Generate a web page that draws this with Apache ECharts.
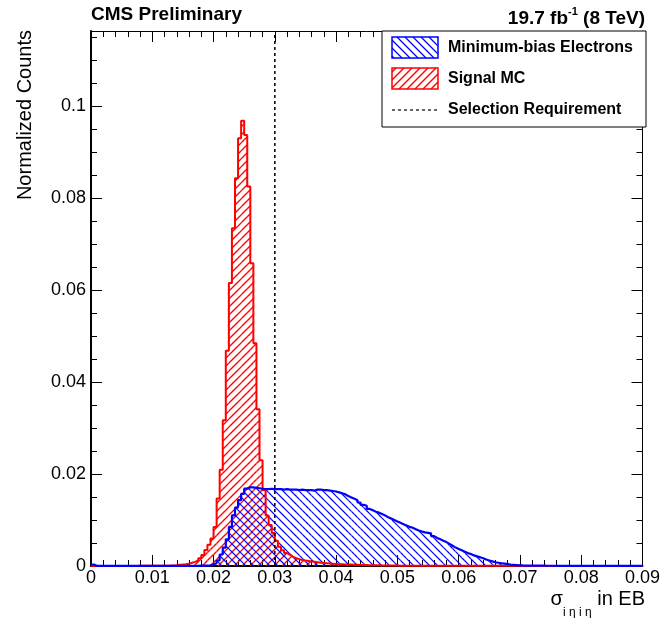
<!DOCTYPE html>
<html>
<head>
<meta charset="utf-8">
<script src="https://cdn.jsdelivr.net/npm/echarts@6/dist/echarts.min.js"></script>
<style>
html,body{margin:0;padding:0;background:#fff;}
#chart{width:663px;height:618px;}
</style>
</head>
<body>
<div id="chart"></div>
<script>
// ---- data ----
const binWidth = 0.0005;
const xMin = 0, xMax = 0.09;
const yMin = 0, yMax = 0.1163;
const selectionCut = 0.03;
const xTickStep = 0.01;
const yTickStep = 0.02;

const signalMC = [
 0.00002,0.00002,0.00002,0.00002,0.00002,0.00002,0.00002,0.00002,0.00002,0.00002,
 0.00002,0.00002,0.00002,0.00002,0.00002,0.00003,0.00003,0.00003,0.00003,0.00003,
 0.00005,0.00005,0.00005,0.00005,0.00008,0.0001,0.00013,0.00018,0.00025,0.00032,
 0.0004,0.0005,0.0007,0.0009,0.0012,0.0017,0.0024,0.0035,0.0046,0.0060,
 0.0085,0.0147,0.0209,0.0317,0.0468,0.0615,0.0734,0.0843,0.0930,0.0968,
 0.0937,0.0825,0.0658,0.0484,0.0341,0.0230,0.0165,0.0110,0.0089,0.0072,
 0.0055,0.0042,0.0034,0.0028,0.0024,0.0020,0.0017,0.0015,0.0013,0.0012,
 0.0011,0.0010,0.0009,0.0008,0.0007,0.00065,0.0006,0.00055,0.0005,0.00045,
 0.0004,0.00038,0.00035,0.00032,0.0003,0.00028,0.00026,0.00024,0.00022,0.0002,
 0.00018,0.00016,0.00015,0.00014,0.00013,0.00012,0.0001,0.0001,0.00009,0.00009,
 0.00008,0.00008,0.00007,0.00007,0.00006,0.00006,0.00005,0.00005,0.00005,0.00005,
 0.00005,0.00005,0.00005,0.00005,0.00005,0.00005,0.00004,0.00004,0.00004,0.00004,
 0.00004,0.00004,0.00004,0.00004,0.00004,0.00004,0.00003,0.00003,0.00003,0.00003,
 0.00003,0.00003,0.00003,0.00003,0.00003,0.00003,0.00003,0.00003,0.00003,0.00003,
 0.00002,0.00002,0.00002,0.00002,0.00002,0.00002,0.00002,0.00002,0.00002,0.00002,
 0.00002,0.00002,0.00002,0.00002,0.00002,0.00002,0.00002,0.00002,0.00002,0.00002,
 0.00002,0.00002,0.00002,0.00002,0.00002,0.00002,0.00002,0.00002,0.00002,0.00002,
 0.00002,0.00002,0.00002,0.00002,0.00002,0.00002,0.00002,0.00002,0.00002,0.00002
];

const minBiasElectrons = [
 0.0003,0.00002,0.00002,0.00002,0.00002,0.00002,0.00002,0.00002,0.00002,0.00002,
 0.00002,0.00002,0.00002,0.00002,0.00002,0.00002,0.00002,0.00002,0.00002,0.00002,
 0.00002,0.00002,0.00002,0.00002,0.00002,0.00002,0.00002,0.00002,0.00002,0.00002,
 0.00004,0.00004,0.00004,0.00004,0.00004,0.00006,0.00008,0.0001,0.00015,0.0003,
 0.0006,0.0012,0.0025,0.0040,0.0058,0.0085,0.0110,0.0127,0.0143,0.0157,
 0.0168,0.0171,0.0171,0.0170,0.0169,0.0168,0.0167,0.0167,0.0168,0.0167,
 0.0167,0.0167,0.0166,0.0167,0.0166,0.0166,0.0166,0.0165,0.0166,0.0165,
 0.0165,0.0165,0.0164,0.0166,0.0166,0.0165,0.0165,0.0164,0.0163,0.0162,
 0.0160,0.0158,0.0156,0.0152,0.0149,0.0146,0.0143,0.0138,0.0133,0.0131,
 0.0124,0.0121,0.0118,0.0116,0.0113,0.0110,0.0106,0.0103,0.0100,0.0097,
 0.0094,0.0091,0.0088,0.0085,0.0083,0.0080,0.0077,0.0075,0.0073,0.0072,
 0.0071,0.0065,0.0061,0.0058,0.0055,0.0052,0.0048,0.0044,0.0040,0.0037,
 0.0034,0.0031,0.0028,0.0026,0.0023,0.0021,0.0019,0.0017,0.0014,0.0012,
 0.0010,0.0008,0.0007,0.0006,0.0005,0.0004,0.0003,0.00025,0.0002,0.00015,
 0.00012,0.0001,0.0001,0.00009,0.00008,0.00007,0.00006,0.00006,0.00005,0.00005,
 0.00005,0.00003,0.00003,0.00003,0.00003,0.00003,0.00003,0.00003,0.00003,0.00003,
 0.00003,0.00003,0.00003,0.00003,0.00003,0.00003,0.00003,0.00003,0.00003,0.00003,
 0.00003,0.00003,0.00003,0.00003,0.00003,0.00003,0.00003,0.00003,0.00003,0.00003
];

const legendLabels = ['Minimum-bias Electrons', 'Signal MC', 'Selection Requirement'];

// ---- helpers ----
const HATCH = 8;
const FONT = "'Liberation Sans', Arial, Helvetica, sans-serif";
const RED = '#ff0000', BLUE = '#0000ff';

function histPoints(counts) {
  const pts = counts.map((v, k) => [k * binWidth, v]);
  pts.push([counts.length * binWidth, counts[counts.length - 1]]);
  return pts;
}
function binItems(counts) {
  return counts.map((v, k) => [k * binWidth, (k + 1) * binWidth, v]);
}
// 45-degree hatch segments inside a pixel rectangle, aligned to a global lattice
function hatchSegments(xa, xb, ya, yb, dir, color, width, z) {
  const out = [];
  if (xb - xa < 0.01 || yb - ya < 0.01) return out;
  const mk = (x1, y1, x2, y2) => {
    const e = { type: 'line', shape: { x1, y1, x2, y2 }, style: { stroke: color, lineWidth: width } };
    if (z != null) e.z = z;
    return e;
  };
  if (dir > 0) { // '/' : x + y = c
    const c0 = Math.ceil((xa + ya) / HATCH) * HATCH;
    for (let c = c0; c <= xb + yb; c += HATCH) {
      const lo = Math.max(xa, c - yb), hi = Math.min(xb, c - ya);
      if (hi > lo) out.push(mk(lo, c - lo, hi, c - hi));
    }
  } else { // '\' : x - y = c
    const c0 = Math.ceil((xa - yb) / HATCH) * HATCH;
    for (let c = c0; c <= xb - ya; c += HATCH) {
      const lo = Math.max(xa, ya + c), hi = Math.min(xb, yb + c);
      if (hi > lo) out.push(mk(lo, lo - c, hi, hi - c));
    }
  }
  return out;
}
function hatchRenderer(dir, color, width) {
  return function (params, api) {
    const p0 = api.coord([api.value(0), api.value(2)]);
    const p1 = api.coord([api.value(1), 0]);
    return { type: 'group', children: hatchSegments(p0[0], p1[0], p0[1], p1[1], dir, color, width) };
  };
}

function xAxisCfg(pos, show) {
  return {
    type: 'value', min: xMin, max: xMax, interval: xTickStep, position: pos,
    axisLine: { show: true, onZero: false, lineStyle: { color: '#000', width: show ? 2 : 1 } },
    axisTick: { show: true, inside: true, length: 11, lineStyle: { color: '#000', width: 1 } },
    minorTick: { show: true, splitNumber: 5, length: 6, lineStyle: { color: '#000', width: 1 } },
    splitLine: { show: false },
    axisLabel: { show: show, fontSize: 18, color: '#000', margin: 3, fontFamily: FONT }
  };
}
function yAxisCfg(pos, show) {
  return {
    type: 'value', min: yMin, max: yMax, interval: yTickStep, position: pos,
    axisLine: { show: true, onZero: false, lineStyle: { color: '#000', width: show ? 2 : 1 } },
    axisTick: { show: true, inside: true, length: 11, lineStyle: { color: '#000', width: 1 } },
    minorTick: { show: true, splitNumber: 4, length: 6, lineStyle: { color: '#000', width: 1 } },
    splitLine: { show: false },
    axisLabel: { show: show, fontSize: 18, color: '#000', margin: 5, fontFamily: FONT, showMaxLabel: false }
  };
}

const legendX = 392, legendW = 46, legendH = 21;
const legendGraphics = [
  { type: 'rect', z: 100, shape: { x: 382, y: 31, width: 264, height: 96 },
    style: { fill: '#fff', stroke: '#000', lineWidth: 1 } }
].concat(
  hatchSegments(legendX, legendX + legendW, 37, 37 + legendH, -1, BLUE, 1.2, 101),
  hatchSegments(legendX, legendX + legendW, 68, 68 + legendH, 1, RED, 1.4, 101),
  [
  { type: 'rect', z: 102, shape: { x: legendX, y: 37, width: legendW, height: legendH },
    style: { fill: 'none', stroke: BLUE, lineWidth: 1.5 } },
  { type: 'text', z: 101, x: 448, y: 48, style: { text: legendLabels[0], font: "bold 16px " + FONT, fill: '#000', verticalAlign: 'middle' } },
  { type: 'rect', z: 102, shape: { x: legendX, y: 68, width: legendW, height: legendH },
    style: { fill: 'none', stroke: RED, lineWidth: 1.5 } },
  { type: 'text', z: 101, x: 448, y: 79, style: { text: legendLabels[1], font: "bold 16px " + FONT, fill: '#000', verticalAlign: 'middle' } },
  { type: 'line', z: 101, shape: { x1: legendX, y1: 110, x2: legendX + legendW, y2: 110 },
    style: { stroke: '#000', lineWidth: 1.2, lineDash: [3, 3] } },
  { type: 'text', z: 101, x: 448, y: 110, style: { text: legendLabels[2], font: "bold 16px " + FONT, fill: '#000', verticalAlign: 'middle' } }
  ]);

const chart = echarts.init(document.getElementById('chart'), null, { renderer: 'canvas' });
chart.setOption({
  animation: false,
  backgroundColor: '#fff',
  grid: { left: 91, right: 17, top: 31, bottom: 52 },
  xAxis: [xAxisCfg('bottom', true), xAxisCfg('top', false)],
  yAxis: [yAxisCfg('left', true), yAxisCfg('right', false)],
  series: [
    {
      name: legendLabels[1] + ' fill', type: 'custom', z: 2, clip: true,
      data: binItems(signalMC), encode: { x: [0, 1], y: 2 },
      renderItem: hatchRenderer(1, RED, 1.4)
    },
    {
      name: legendLabels[0] + ' fill', type: 'custom', z: 2, clip: true,
      data: binItems(minBiasElectrons), encode: { x: [0, 1], y: 2 },
      renderItem: hatchRenderer(-1, BLUE, 1.2)
    },
    {
      name: legendLabels[1], type: 'line', step: 'end', showSymbol: false, z: 3,
      data: histPoints(signalMC),
      lineStyle: { color: RED, width: 2 },
      itemStyle: { color: RED }
    },
    {
      name: legendLabels[0], type: 'line', step: 'end', showSymbol: false, z: 4,
      data: histPoints(minBiasElectrons),
      lineStyle: { color: BLUE, width: 2.2 },
      itemStyle: { color: BLUE }
    },
    {
      name: legendLabels[2], type: 'line', showSymbol: false, z: 5,
      data: [[selectionCut, yMin], [selectionCut, yMax]],
      lineStyle: { color: '#000', width: 1.5, type: [3, 3] }
    }
  ],
  graphic: [
    { type: 'text', left: 91, top: 5, style: { text: 'CMS Preliminary', font: "bold 19px " + FONT, fill: '#000' } },
    { type: 'text', x: 645, y: 17, style: {
        text: '{b|19.7 fb}{s|-1}{b| (8 TeV)}', align: 'right', verticalAlign: 'middle',
        rich: { b: { font: "bold 19px " + FONT, fill: '#000', lineHeight: 22, verticalAlign: 'bottom' },
                s: { font: "bold 11px " + FONT, fill: '#000', lineHeight: 14, verticalAlign: 'top' } } } },
    { type: 'text', x: 25, y: 30, rotation: Math.PI / 2, style: {
        text: 'Normalized Counts', font: "20px " + FONT, fill: '#000', align: 'right', verticalAlign: 'middle' } },
    { type: 'text', x: 645, y: 601, style: {
        text: '{a|σ}{s|i η i η}{a| in EB}', align: 'right', verticalAlign: 'middle',
        rich: { a: { font: "20px " + FONT, fill: '#000', lineHeight: 24, verticalAlign: 'top' },
                s: { font: "12px " + FONT, fill: '#000', lineHeight: 12, verticalAlign: 'bottom', padding: [0, 0, -6, 0] } } } }
  ].concat(legendGraphics)
});
</script>
</body>
</html>
